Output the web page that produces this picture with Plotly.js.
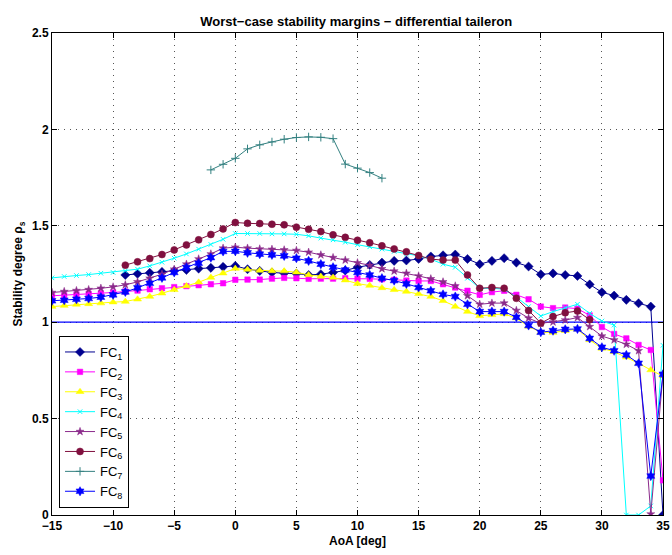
<!DOCTYPE html>
<html>
<head>
<meta charset="utf-8">
<script src="https://cdn.plot.ly/plotly-3.0.1.min.js"></script>
<style>html,body{margin:0;padding:0;background:#fff;}#chart{width:672px;height:555px;}</style>
</head>
<body>
<div id="chart"></div>
<script>
const FC1_x = [-9,-8,-7,-6,-5,-4,-3,-2,-1,0,1,2,3,4,5,6,7,8,9,10,11,12,13,14,15,16,17,18,19,20,21,22,23,24,25,26,27,28,29,30,31,32,33,34,35];
const FC1_y = [1.245,1.251,1.256,1.261,1.266,1.271,1.278,1.282,1.287,1.292,1.275,1.266,1.258,1.254,1.252,1.245,1.249,1.258,1.268,1.285,1.297,1.309,1.318,1.320,1.328,1.341,1.347,1.351,1.328,1.301,1.318,1.332,1.309,1.289,1.248,1.253,1.245,1.240,1.196,1.155,1.138,1.116,1.098,1.081,0];

const FULL_x = [-15,-14,-13,-12,-11,-10,-9,-8,-7,-6,-5,-4,-3,-2,-1,0,1,2,3,4,5,6,7,8,9,10,11,12,13,14,15,16,17,18,19,20,21,22,23,24,25,26,27,28,29,30,31,32,33,34,35];

const FC2_y = [1.137,1.140,1.144,1.147,1.150,1.154,1.159,1.164,1.171,1.176,1.182,1.187,1.192,1.197,1.202,1.220,1.221,1.221,1.226,1.230,1.228,1.225,1.226,1.226,1.228,1.226,1.225,1.223,1.220,1.216,1.214,1.214,1.197,1.180,1.163,1.142,1.156,1.163,1.142,1.119,1.081,1.073,1.076,1.070,1.035,0.975,0.939,0.916,0.882,0.856,0.18];

const FC3_y = [1.081,1.086,1.092,1.095,1.099,1.104,1.107,1.119,1.133,1.150,1.168,1.188,1.207,1.232,1.254,1.278,1.273,1.268,1.266,1.265,1.259,1.245,1.237,1.232,1.218,1.200,1.190,1.178,1.168,1.159,1.147,1.133,1.111,1.081,1.055,1.033,1.038,1.043,1.021,0.978,0.948,0.946,0.956,0.963,0.908,0.864,0.847,0.818,0.787,0.752,0.72];

const FC4_y = [1.230,1.237,1.242,1.247,1.254,1.258,1.266,1.275,1.292,1.311,1.332,1.354,1.379,1.403,1.430,1.460,1.460,1.460,1.458,1.458,1.456,1.448,1.436,1.427,1.415,1.402,1.391,1.379,1.367,1.354,1.344,1.327,1.301,1.285,1.228,1.176,1.176,1.171,1.130,1.081,1.032,1.055,1.075,1.093,1.046,1.006,0.985,0,0,0.047,0.88];

const FC5_y = [1.154,1.159,1.164,1.169,1.176,1.183,1.194,1.209,1.228,1.249,1.275,1.301,1.328,1.354,1.384,1.389,1.384,1.380,1.378,1.375,1.372,1.363,1.349,1.335,1.322,1.308,1.295,1.277,1.265,1.254,1.240,1.225,1.209,1.188,1.137,1.093,1.099,1.099,1.061,1.021,0.994,1.001,1.011,1.024,0.977,0.928,0.908,0.885,0.852,0.005,0.73];

const FC6_x = [-9,-8,-7,-6,-5,-4,-3,-2,-1,0,1,2,3,4,5,6,7,8,9,10,11,12,13,14,15,16,17,18,19,20,21,22,23,24,25,26,27,28,29];
const FC6_y = [1.296,1.313,1.330,1.351,1.375,1.401,1.427,1.455,1.484,1.517,1.513,1.512,1.508,1.505,1.493,1.482,1.470,1.453,1.440,1.425,1.412,1.396,1.380,1.365,1.346,1.327,1.322,1.322,1.245,1.176,1.180,1.176,1.124,1.061,0.995,1.029,1.049,1.058,1.013];

const FC7_x = [-2,-1,0,1,2,3,4,5,6,7,8,9,10,11,12];
const FC7_y = [1.790,1.819,1.850,1.899,1.920,1.935,1.949,1.958,1.961,1.959,1.952,1.820,1.799,1.776,1.747];

const FC8_y = [1.111,1.114,1.119,1.123,1.130,1.142,1.157,1.178,1.202,1.230,1.258,1.284,1.306,1.335,1.367,1.368,1.360,1.353,1.349,1.344,1.332,1.318,1.301,1.285,1.271,1.258,1.245,1.228,1.216,1.199,1.180,1.163,1.144,1.133,1.093,1.055,1.055,1.055,1.026,0.983,0.948,0.956,0.963,0.965,0.916,0.870,0.852,0.830,0.787,0.202,0.73];

const REF_x = [-15, 35];
const REF_y = [1, 1];

const names = ['FC<sub>1</sub>','FC<sub>2</sub>','FC<sub>3</sub>','FC<sub>4</sub>','FC<sub>5</sub>','FC<sub>6</sub>','FC<sub>7</sub>','FC<sub>8</sub>'];

function tr(x, y, name, color, symbol, size, filled) {
  return {
    x: x, y: y, name: name, type: 'scatter', mode: 'lines+markers',
    line: {color: color, width: 1},
    marker: filled ? {symbol: symbol, size: size, color: color, line: {color: color, width: 0.5}}
                   : {symbol: symbol, size: size, color: color, line: {color: color, width: 1}}
  };
}

const data = [
  {x: REF_x, y: REF_y, type: 'scatter', mode: 'lines', line: {color: '#0000FF', width: 1.3}, showlegend: false, hoverinfo: 'skip'},
  tr(FC1_x, FC1_y, names[0], '#00008F', 'diamond', 7, true),
  tr(FULL_x, FC2_y, names[1], '#FF00FF', 'square', 5.5, true),
  tr(FULL_x, FC3_y, names[2], '#FFFF00', 'triangle-up', 7, true),
  tr(FULL_x, FC4_y, names[3], '#00FFFF', 'x-thin', 4.5, false),
  tr(FULL_x, FC5_y, names[4], '#8B2A8B', 'star', 6, true),
  tr(FC6_x, FC6_y, names[5], '#80103F', 'circle', 7, true),
  tr(FC7_x, FC7_y, names[6], '#338080', 'cross-thin', 6, false),
  tr(FULL_x, FC8_y, names[7], '#0000FF', 'hexagram', 7, true)
];

const FONT = 'Liberation Sans, Arial, Helvetica, sans-serif';

const layout = {
  width: 672, height: 555,
  margin: {l: 52, r: 9, t: 33, b: 40},
  paper_bgcolor: '#fff', plot_bgcolor: '#fff',
  font: {family: FONT, color: '#000'},
  title: {text: 'Worst\u2212case stability margins \u2212 differential taileron', font: {family: FONT, size: 13, weight: 'bold', color: '#000'}, x: 0.53, xanchor: 'center', y: 1 - 21/555, yanchor: 'middle'},
  xaxis: {
    range: [-15, 35], dtick: 5, tick0: -15, ticks: 'inside', ticklen: 5, tickcolor: '#000',
    showline: true, linecolor: '#000', linewidth: 1, mirror: 'allticks',
    showgrid: true, gridcolor: '#555', griddash: '1px,5px', gridwidth: 1, zeroline: false,
    tickfont: {family: FONT, size: 12, weight: 'bold', color: '#000'},
    title: {text: 'AoA [deg]', font: {family: FONT, size: 12, weight: 'bold', color: '#000'}, standoff: 4}
  },
  yaxis: {
    range: [0, 2.5], dtick: 0.5, ticks: 'inside', ticklen: 5, tickcolor: '#000',
    showline: true, linecolor: '#000', linewidth: 1, mirror: 'allticks',
    showgrid: true, gridcolor: '#555', griddash: '1px,5px', gridwidth: 1, zeroline: false,
    tickfont: {family: FONT, size: 12, weight: 'bold', color: '#000'},
    title: {text: 'Stability degree \u03c1<sub>s</sub>', font: {family: FONT, size: 12, weight: 'bold', color: '#000'}, standoff: 6}
  },
  legend: {
    x: 0.0115, y: 0.0145, xanchor: 'left', yanchor: 'bottom',
    bgcolor: '#fff', bordercolor: '#000', borderwidth: 1,
    font: {family: FONT, size: 13, color: '#000'},
    itemwidth: 30, tracegroupgap: 0
  },
  showlegend: true
};

Plotly.newPlot('chart', data, layout, {displayModeBar: false, staticPlot: true});
</script>
</body>
</html>
